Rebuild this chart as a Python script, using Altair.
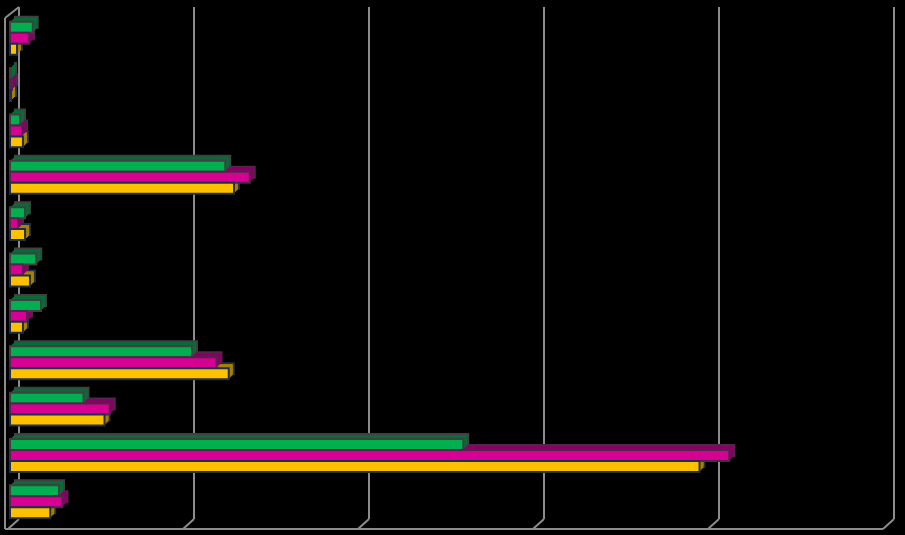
import altair as alt
import pandas as pd

# ---- data (units: 100 per gridline interval) ----
categories = ["C01", "C02", "C03", "C04", "C05", "C06", "C07", "C08", "C09", "C10", "C11"]
series = ["Series 1", "Series 2", "Series 3"]
green_vals = [13, 0.6, 5.7, 123, 8.6, 15, 17.7, 104, 42, 259, 28]
magenta_vals = [11, 1.1, 6.9, 137, 4.6, 7.4, 9.7, 118, 57, 411, 30]
yellow_vals = [4, 0.6, 7.4, 128, 8.6, 11.4, 7.4, 125, 54, 394, 23]
ticks = [0, 100, 200, 300, 400, 500]

# ---- styles ----
face = {"Series 1": "#00B050", "Series 2": "#D60093", "Series 3": "#FFC000"}
side = {"Series 1": "#0A6A38", "Series 2": "#880064", "Series 3": "#A88000"}
edge = {"Series 1": "#404040", "Series 2": "#50264A", "Series 3": "#1F2F4D"}
GRID = "#8C8C8C"
W, H = 875, 510

rows = []
for s, vals in zip(series, [green_vals, magenta_vals, yellow_vals]):
    for c, v in zip(categories, vals):
        rows.append({"cat": c, "series": s, "value": v,
                     "face": face[s], "side": side[s], "edge": edge[s]})
df = pd.DataFrame(rows)
tick_df = pd.DataFrame({"t": ticks})
zero_df = pd.DataFrame({"t": [ticks[0]], "t2": [ticks[-1]]})

xscale = alt.Scale(domain=[ticks[0], ticks[-1]], nice=False, zero=True)
oscale = alt.Scale(domain=series, paddingInner=0, paddingOuter=0)

# ---- walls / grid ----
back = alt.Chart(tick_df).mark_rule(color=GRID, strokeWidth=2, xOffset=9, x2Offset=9).encode(
    x=alt.X("t:Q", scale=xscale, axis=None),
    y=alt.value(-8), y2=alt.value(504))
diag = alt.Chart(tick_df).mark_rule(color=GRID, strokeWidth=2, xOffset=9, x2Offset=-2).encode(
    x=alt.X("t:Q", scale=xscale, axis=None), x2=alt.X2("t"),
    y=alt.value(504), y2=alt.value(514))
floor = alt.Chart(zero_df).mark_rule(color=GRID, strokeWidth=2, xOffset=-5, x2Offset=-2).encode(
    x=alt.X("t:Q", scale=xscale, axis=None), x2=alt.X2("t2"),
    y=alt.value(514))
leftfront = alt.Chart(zero_df).mark_rule(color=GRID, strokeWidth=2, xOffset=-5, x2Offset=-5).encode(
    x=alt.X("t:Q", scale=xscale, axis=None),
    y=alt.value(3), y2=alt.value(514))
lefttop = alt.Chart(zero_df).mark_rule(color=GRID, strokeWidth=2, xOffset=-5, x2Offset=9).encode(
    x=alt.X("t:Q", scale=xscale, axis=None), x2=alt.X2("t"),
    y=alt.value(3), y2=alt.value(-8))


def bar_layer(k, fill_field, stroke_w):
    props = dict(xOffset=k, x2Offset=k, strokeWidth=stroke_w)
    yscale = alt.Scale(domain=categories, paddingInner=0.29, paddingOuter=0.145,
                       range=[-k, H - k])
    enc = dict(
        x=alt.X("value:Q", scale=xscale, axis=None),
        y=alt.Y("cat:N", scale=yscale, axis=None),
        yOffset=alt.YOffset("series:N", scale=oscale, sort=series),
        fill=alt.Fill(f"{fill_field}:N", scale=None, legend=None),
    )
    if stroke_w > 0:
        enc["stroke"] = alt.Stroke("edge:N", scale=None, legend=None)
    return alt.Chart(df).mark_bar(**props).encode(**enc)


layers = [back, diag, floor, leftfront, lefttop]
layers.append(bar_layer(5, "side", 2))
for k in [4, 3, 2, 1]:
    layers.append(bar_layer(k, "side", 0))
layers.append(bar_layer(0, "face", 2))

chart = alt.layer(*layers).resolve_scale(y="independent").properties(
    width=W, height=H,
    padding={"left": 10, "top": 15, "right": 20, "bottom": 10},
    autosize="none",
    background="#000000",
).configure_view(stroke=None)

chart.save("out.html", embed_options={"renderer": "svg", "actions": False})
